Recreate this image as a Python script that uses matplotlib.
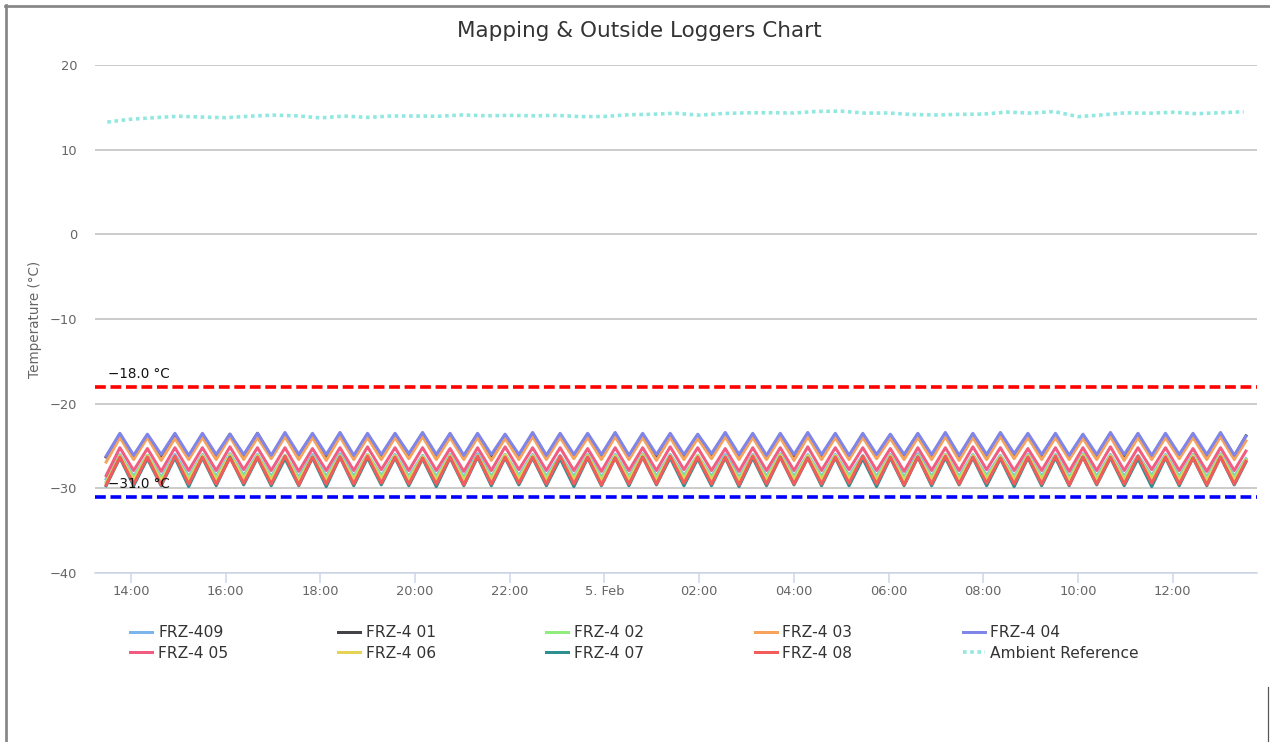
import matplotlib
matplotlib.use('Agg')
import matplotlib.pyplot as plt
import matplotlib.dates as mdates
from matplotlib.lines import Line2D
import pandas as pd

W, H, DPI = 1270, 742, 100
PX = 72.0 / DPI  # points per pixel

# ---- data ----
names = ['FRZ-409', 'FRZ-4 01', 'FRZ-4 02', 'FRZ-4 03', 'FRZ-4 04',
         'FRZ-4 05', 'FRZ-4 06', 'FRZ-4 07', 'FRZ-4 08']
colors = ['#7cb5ec', '#434348', '#90ed7d', '#f7a35c', '#8085e9',
          '#f15c80', '#e4d354', '#2b908f', '#f45b5b']

# readings at the turning points of the compressor cycle (start, peak/trough pairs, last reading)
turn_start = '2024-02-04 13:28:30'
turn_step = '1046s'
last_time = '2024-02-05 13:32:50'

start_vals = [-28.9, -26.3, -29.2, -26.9, -26.2, -28.5, -29.4, -29.7, -29.6]
end_vals = [-26.5, -23.8, -26.6, -24.4, -23.85, -25.6, -26.7, -26.9, -26.8]

peaks_409 = [-26.0, -26.1, -26.0, -26.0, -25.9, -26.0, -26.1, -26.0, -25.9, -26.0,
             -26.0, -26.1, -26.0, -25.9, -26.0, -26.0, -26.1, -26.0, -26.0, -25.9,
             -26.0, -26.1, -26.0, -26.0, -25.9, -26.0, -26.0, -26.1, -26.0, -25.9,
             -26.0, -26.0, -26.1, -26.0, -26.0, -25.9, -26.0, -26.1, -26.0, -26.0, -25.9]
troughs_409 = [-28.6, -28.7, -28.6, -28.6, -28.5, -28.6, -28.7, -28.6, -28.6, -28.5,
               -28.6, -28.6, -28.7, -28.6, -28.5, -28.6, -28.6, -28.7, -28.6, -28.6,
               -28.5, -28.6, -28.7, -28.6, -28.6, -28.6, -28.5, -28.6, -28.7, -28.6,
               -28.6, -28.5, -28.6, -28.6, -28.7, -28.6, -28.6, -28.5, -28.6, -28.7, -28.6]

peaks_01 = [-23.6, -23.7, -23.6, -23.6, -23.6, -23.5, -23.6, -23.6, -23.5, -23.6,
            -23.6, -23.5, -23.6, -23.6, -23.7, -23.5, -23.6, -23.6, -23.5, -23.6,
            -23.6, -23.7, -23.5, -23.6, -23.6, -23.5, -23.6, -23.6, -23.7, -23.6,
            -23.5, -23.6, -23.5, -23.6, -23.6, -23.7, -23.5, -23.6, -23.6, -23.6, -23.5]
troughs_01 = [-26.2, -26.2, -26.3, -26.2, -26.2, -26.2, -26.1, -26.2, -26.3, -26.2,
              -26.1, -26.2, -26.2, -26.2, -26.3, -26.2, -26.2, -26.1, -26.2, -26.2,
              -26.2, -26.1, -26.2, -26.3, -26.2, -26.2, -26.2, -26.2, -26.1, -26.2,
              -26.3, -26.2, -26.1, -26.2, -26.2, -26.2, -26.2, -26.3, -26.2, -26.2, -26.2]

peaks_02 = [-26.1, -26.1, -26.2, -26.1, -26.0, -26.1, -26.1, -26.2, -26.1, -26.0,
            -26.1, -26.2, -26.1, -26.1, -26.0, -26.1, -26.2, -26.1, -26.1, -26.0,
            -26.1, -26.1, -26.2, -26.1, -26.0, -26.1, -26.1, -26.2, -26.1, -26.1,
            -26.0, -26.1, -26.2, -26.1, -26.1, -26.0, -26.1, -26.2, -26.1, -26.1, -26.0]
troughs_02 = [-28.8, -28.9, -28.8, -28.8, -28.7, -28.8, -28.9, -28.8, -28.8, -28.7,
              -28.8, -28.8, -28.9, -28.8, -28.7, -28.8, -28.8, -28.9, -28.8, -28.8,
              -28.7, -28.8, -28.9, -28.8, -28.8, -28.8, -28.7, -28.8, -28.9, -28.8,
              -28.8, -28.7, -28.8, -28.8, -28.9, -28.8, -28.8, -28.7, -28.8, -28.9, -28.8]

peaks_03 = [-24.0, -24.0, -24.1, -24.0, -23.9, -24.0, -23.9, -24.0, -23.9, -24.0,
            -24.0, -23.9, -24.0, -24.0, -24.1, -23.9, -24.0, -24.0, -23.9, -24.0,
            -24.0, -24.1, -23.9, -24.0, -24.0, -23.9, -24.0, -24.0, -24.1, -24.0,
            -23.9, -24.0, -23.9, -24.0, -24.0, -24.1, -23.9, -24.0, -24.0, -24.0, -23.9]
troughs_03 = [-26.6, -26.7, -26.6, -26.6, -26.6, -26.5, -26.6, -26.7, -26.6, -26.6,
              -26.5, -26.6, -26.6, -26.7, -26.6, -26.6, -26.5, -26.6, -26.6, -26.7,
              -26.6, -26.5, -26.6, -26.6, -26.7, -26.6, -26.6, -26.5, -26.6, -26.6,
              -26.7, -26.6, -26.5, -26.6, -26.6, -26.6, -26.7, -26.6, -26.5, -26.6, -26.6]

peaks_04 = [-23.5, -23.6, -23.5, -23.5, -23.6, -23.5, -23.4, -23.5, -23.4, -23.5,
            -23.5, -23.4, -23.5, -23.5, -23.6, -23.4, -23.5, -23.5, -23.4, -23.5,
            -23.5, -23.6, -23.4, -23.5, -23.5, -23.4, -23.5, -23.5, -23.6, -23.5,
            -23.4, -23.5, -23.4, -23.5, -23.5, -23.6, -23.4, -23.5, -23.5, -23.5, -23.4]
troughs_04 = [-26.1, -26.0, -26.1, -26.0, -26.0, -26.1, -26.0, -26.0, -26.1, -26.0,
              -25.9, -26.0, -26.1, -26.0, -26.0, -26.1, -26.0, -26.0, -26.1, -26.0,
              -26.0, -25.9, -26.0, -26.1, -26.0, -26.0, -26.1, -26.0, -26.0, -26.0,
              -26.1, -26.0, -25.9, -26.0, -26.1, -26.0, -26.0, -26.1, -26.0, -26.0, -26.1]

peaks_05 = [-25.2, -25.3, -25.2, -25.2, -25.1, -25.2, -25.2, -25.3, -25.2, -25.1,
            -25.2, -25.2, -25.3, -25.2, -25.1, -25.2, -25.2, -25.3, -25.2, -25.2,
            -25.1, -25.2, -25.3, -25.2, -25.2, -25.1, -25.2, -25.2, -25.3, -25.2,
            -25.2, -25.1, -25.2, -25.3, -25.2, -25.2, -25.1, -25.2, -25.2, -25.3, -25.2]
troughs_05 = [-27.9, -28.0, -27.9, -27.9, -27.8, -27.9, -28.0, -27.9, -27.9, -27.8,
              -27.9, -27.9, -28.0, -27.9, -27.8, -27.9, -27.9, -28.0, -27.9, -27.9,
              -27.8, -27.9, -28.0, -27.9, -27.9, -27.9, -27.8, -27.9, -28.0, -27.9,
              -27.9, -27.8, -27.9, -27.9, -28.0, -27.9, -27.9, -27.8, -27.9, -28.0, -27.9]

peaks_06 = [-26.2, -26.2, -26.3, -26.2, -26.1, -26.2, -26.2, -26.3, -26.2, -26.1,
            -26.2, -26.3, -26.2, -26.2, -26.1, -26.2, -26.3, -26.2, -26.2, -26.1,
            -26.2, -26.2, -26.3, -26.2, -26.1, -26.2, -26.2, -26.3, -26.2, -26.2,
            -26.1, -26.2, -26.3, -26.2, -26.2, -26.1, -26.2, -26.3, -26.2, -26.2, -26.1]
troughs_06 = [-29.1, -29.2, -29.1, -29.1, -29.0, -29.1, -29.2, -29.1, -29.1, -29.0,
              -29.1, -29.1, -29.2, -29.1, -29.0, -29.1, -29.1, -29.2, -29.1, -29.1,
              -29.0, -29.1, -29.2, -29.1, -29.1, -29.1, -29.0, -29.1, -29.2, -29.1,
              -29.1, -29.0, -29.1, -29.1, -29.2, -29.1, -29.1, -29.0, -29.1, -29.2, -29.1]

peaks_07 = [-26.4, -26.5, -26.4, -26.4, -26.3, -26.4, -26.5, -26.4, -26.3, -26.4,
            -26.4, -26.5, -26.4, -26.3, -26.4, -26.4, -26.5, -26.4, -26.4, -26.3,
            -26.4, -26.5, -26.4, -26.4, -26.3, -26.4, -26.4, -26.5, -26.4, -26.3,
            -26.4, -26.4, -26.5, -26.4, -26.4, -26.3, -26.4, -26.5, -26.4, -26.4, -26.3]
troughs_07 = [-29.7, -29.7, -29.8, -29.7, -29.6, -29.7, -29.7, -29.8, -29.7, -29.6,
              -29.7, -29.8, -29.7, -29.7, -29.6, -29.7, -29.8, -29.7, -29.7, -29.6,
              -29.7, -29.7, -29.8, -29.7, -29.6, -29.7, -29.7, -29.8, -29.7, -29.7,
              -29.6, -29.7, -29.8, -29.7, -29.7, -29.6, -29.7, -29.8, -29.7, -29.7, -29.6]

peaks_08 = [-26.3, -26.3, -26.2, -26.3, -26.4, -26.3, -26.2, -26.3, -26.3, -26.2,
            -26.3, -26.4, -26.3, -26.2, -26.3, -26.3, -26.2, -26.3, -26.4, -26.3,
            -26.2, -26.3, -26.3, -26.2, -26.3, -26.4, -26.3, -26.2, -26.3, -26.3,
            -26.2, -26.3, -26.4, -26.3, -26.2, -26.3, -26.3, -26.2, -26.3, -26.4, -26.3]
troughs_08 = [-29.5, -29.6, -29.5, -29.5, -29.4, -29.5, -29.6, -29.5, -29.5, -29.4,
              -29.5, -29.5, -29.6, -29.5, -29.4, -29.5, -29.5, -29.6, -29.5, -29.5,
              -29.4, -29.5, -29.6, -29.5, -29.5, -29.5, -29.4, -29.5, -29.6, -29.5,
              -29.5, -29.4, -29.5, -29.5, -29.6, -29.5, -29.5, -29.4, -29.5, -29.6, -29.5]

all_peaks = [peaks_409, peaks_01, peaks_02, peaks_03, peaks_04,
             peaks_05, peaks_06, peaks_07, peaks_08]
all_troughs = [troughs_409, troughs_01, troughs_02, troughs_03, troughs_04,
               troughs_05, troughs_06, troughs_07, troughs_08]

# ambient reference, every 30 min
amb_start = '2024-02-04 13:30'
amb_vals = [13.26, 13.6, 13.78, 13.95, 13.85, 13.78, 13.95, 14.08, 14.0, 13.75,
            13.97, 13.81, 13.98, 13.97, 13.95, 14.1, 14.0, 14.05, 14.0, 14.05,
            13.9, 13.92, 14.12, 14.18, 14.3, 14.08, 14.27, 14.35, 14.36, 14.33,
            14.52, 14.55, 14.32, 14.33, 14.15, 14.1, 14.17, 14.2, 14.44, 14.32,
            14.5, 13.9, 14.1, 14.35, 14.3, 14.42, 14.25, 14.36, 14.48]

limits = [-18.0, -31.0]
limit_colors = ['#ff0000', '#0000ff']

# ---- figure ----
fig = plt.figure(figsize=(W / DPI, H / DPI), dpi=DPI)
ax = fig.add_axes([95 / W, 1 - 573 / H, 1162 / W, 508 / H])

turn_times = list(pd.date_range(turn_start, periods=83, freq=turn_step)) + [pd.Timestamp(last_time)]
for i in range(len(names)):
    vals = [start_vals[i]]
    for p, t in zip(all_peaks[i], all_troughs[i]):
        vals += [p, t]
    vals.append(end_vals[i])
    ax.plot(turn_times, vals, color=colors[i], lw=3.0 * PX, label=names[i],
            solid_joinstyle='round', zorder=3 + i * 0.01)

amb_times = pd.date_range(amb_start, periods=len(amb_vals), freq='30min')
ax.plot(amb_times, amb_vals, color='#91e8e1', lw=3.6 * PX, dashes=(1, 1),
        dash_capstyle='butt', label='Ambient Reference', zorder=3.2)

for v, c in zip(limits, limit_colors):
    ax.axhline(v, color=c, lw=3.6 * PX, dashes=(3, 1.3), zorder=2.5)
    ax.annotate(f'\u2212{abs(v):.1f} \u00b0C', xy=(0, v), xycoords=('axes fraction', 'data'),
                xytext=(13 * PX, 8.5 * PX), textcoords='offset points', va='baseline',
                fontsize=13.5 * PX, color='#111111', zorder=5)

ax.set_ylim(-40, 20)
ax.set_yticks(range(-40, 21, 10))
ax.set_xlim(pd.Timestamp('2024-02-04 13:14:24'), pd.Timestamp('2024-02-05 13:46:50'))
ax.xaxis.set_major_locator(mdates.HourLocator(byhour=range(0, 24, 2)))


def fmt_time(x, pos):
    d = mdates.num2date(x)
    if d.hour == 0 and d.minute == 0:
        return f'{d.day}. {d:%b}'
    return f'{d:%H:%M}'


ax.xaxis.set_major_formatter(plt.FuncFormatter(fmt_time))

for s in ['top', 'left', 'right']:
    ax.spines[s].set_visible(False)
ax.spines['bottom'].set_color('#ccd6eb')
ax.spines['bottom'].set_linewidth(1.5 * PX)
ax.yaxis.grid(True, color='#c0c0c0', lw=1.6 * PX)
ax.set_axisbelow(True)
ax.tick_params(axis='x', length=10 * PX, width=1.5 * PX, color='#ccd6eb',
               labelcolor='#666666', labelsize=13 * PX, pad=1.5)
ax.tick_params(axis='y', length=0, labelcolor='#666666', labelsize=13 * PX, pad=18 * PX)

fig.text(639 / W, 1 - 37.3 / H, 'Mapping & Outside Loggers Chart', ha='center',
         va='baseline', fontsize=21.5 * PX, color='#333333')
fig.text(35 / W, 1 - 319 / H, 'Temperature (\u00b0C)', rotation=90, ha='center',
         va='center', fontsize=13.5 * PX, color='#666666')

handles, labels = ax.get_legend_handles_labels()
order = [0, 5, 1, 6, 2, 7, 3, 8, 4, 9]
fig.legend([handles[k] for k in order], [labels[k] for k in order], ncol=5,
           loc='upper left', bbox_to_anchor=(130 / W, 1 - 625 / H), frameon=False,
           fontsize=15.5 * PX, handlelength=22 / 15.5, handletextpad=6 / 15.5,
           columnspacing=110 / 15.5, labelspacing=0.36, borderpad=0, borderaxespad=0,
           labelcolor='#333333')

# page border
fig.add_artist(Line2D([6 / W, 6 / W], [0, 1 - 5 / H], color='#858585', lw=2.7 * PX))
fig.add_artist(Line2D([5 / W, 1], [1 - 6 / H, 1 - 6 / H], color='#858585', lw=2.7 * PX))
fig.add_artist(Line2D([1268 / W, 1268 / W], [0, 1 - 687 / H], color='#555555', lw=1.2 * PX))

fig.savefig('out.png', dpi=DPI)
